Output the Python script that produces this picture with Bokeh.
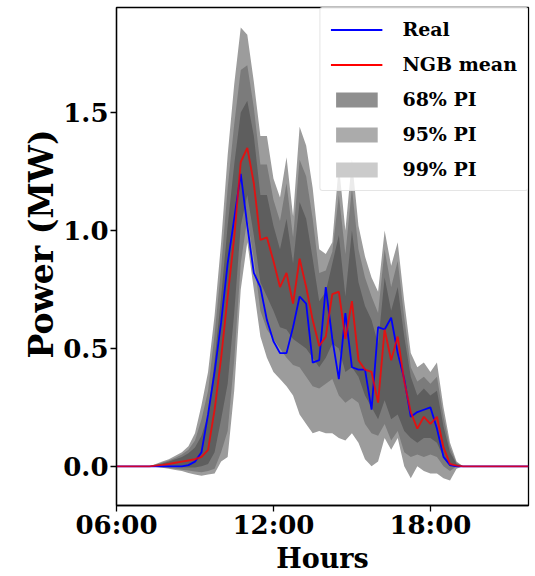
from bokeh.plotting import figure
from bokeh.models import (Range1d, FixedTicker, Legend, LegendItem, ColumnDataSource,
                          PrintfTickFormatter, Title)
from bokeh.embed import file_html
from bokeh.resources import INLINE

# 15-minute steps from 06:00 to 21:45 (hours as numbers)
hours = [6 + 0.25 * i for i in range(64)]

real = [0, 0, 0, 0, 0, 0, 0, 0, 0, 0, 0, 0.005, 0.02, 0.06, 0.22, 0.40,
        0.61, 0.86, 1.05, 1.24, 1.02, 0.82, 0.76, 0.62, 0.53, 0.48, 0.48, 0.59,
        0.72, 0.69, 0.44, 0.45, 0.76, 0.54, 0.37, 0.65, 0.42, 0.41, 0.41, 0.24,
        0.59, 0.58, 0.63, 0.48, 0.37, 0.21, 0.23, 0.24, 0.25, 0.16, 0.04, 0.005,
        0, 0, 0, 0, 0, 0, 0, 0, 0, 0, 0, 0]

ngb_mean = [0, 0, 0, 0, 0, 0, 0.003, 0.006, 0.01, 0.015, 0.02, 0.025, 0.03, 0.04, 0.07, 0.24,
            0.46, 0.72, 0.97, 1.29, 1.35, 1.20, 0.96, 0.97, 0.87, 0.76, 0.82, 0.69,
            0.88, 0.76, 0.62, 0.51, 0.55, 0.73, 0.74, 0.54, 0.70, 0.45, 0.41, 0.40,
            0.27, 0.58, 0.45, 0.55, 0.36, 0.23, 0.16, 0.21, 0.18, 0.21, 0.08, 0.01,
            0.003, 0, 0, 0, 0, 0, 0, 0, 0, 0, 0, 0]

lo99 = [0, 0, 0, 0, 0, 0, -0.003, -0.006, -0.01, -0.015, -0.02, -0.028, -0.035, -0.04, -0.035, -0.03,
        0.02, 0.04, 0.32, 0.75, 0.95, 0.75, 0.55, 0.46, 0.40, 0.37, 0.34, 0.30,
        0.22, 0.18, 0.14, 0.15, 0.14, 0.14, 0.12, 0.11, 0.14, 0.10, 0.03, 0.00,
        0.02, 0.12, 0.07, 0.12, 0.00, -0.05, 0.00, -0.02, -0.03, -0.03, -0.05, -0.06,
        -0.01, 0, 0, 0, 0, 0, 0, 0, 0, 0, 0, 0]
lo95 = [0, 0, 0, 0, 0, 0, -0.002, -0.004, -0.007, -0.01, -0.014, -0.018, -0.022, -0.025, -0.02, -0.01,
        0.06, 0.15, 0.45, 0.86, 1.05, 0.88, 0.66, 0.58, 0.54, 0.50, 0.46, 0.43,
        0.42, 0.38, 0.34, 0.33, 0.35, 0.37, 0.30, 0.27, 0.29, 0.27, 0.18, 0.14,
        0.13, 0.18, 0.11, 0.15, 0.06, 0.04, 0.05, 0.04, 0.05, 0.04, 0.00, -0.02,
        0, 0, 0, 0, 0, 0, 0, 0, 0, 0, 0, 0]
lo68 = [0, 0, 0, 0, 0, 0, 0, -0.001, -0.002, -0.003, -0.004, -0.005, -0.005, 0.0, 0.01, 0.06,
        0.20, 0.35, 0.65, 1.02, 1.15, 0.98, 0.78, 0.72, 0.66, 0.59, 0.58, 0.54,
        0.52, 0.50, 0.46, 0.42, 0.46, 0.52, 0.50, 0.40, 0.42, 0.38, 0.30, 0.25,
        0.20, 0.28, 0.20, 0.22, 0.15, 0.12, 0.10, 0.12, 0.12, 0.10, 0.04, 0.00,
        0, 0, 0, 0, 0, 0, 0, 0, 0, 0, 0, 0]
hi68 = [0, 0, 0, 0, 0, 0, 0.006, 0.012, 0.02, 0.03, 0.04, 0.055, 0.08, 0.13, 0.22, 0.45,
        0.72, 1.02, 1.28, 1.50, 1.55, 1.40, 1.15, 1.15, 1.02, 0.92, 1.05, 0.86,
        1.12, 1.05, 0.88, 0.70, 0.74, 0.86, 0.98, 0.72, 1.00, 0.78, 0.68, 0.62,
        0.52, 0.80, 0.66, 0.76, 0.55, 0.38, 0.30, 0.33, 0.30, 0.32, 0.17, 0.06,
        0.01, 0, 0, 0, 0, 0, 0, 0, 0, 0, 0, 0]
hi95 = [0, 0, 0, 0, 0, 0, 0.008, 0.016, 0.025, 0.036, 0.05, 0.07, 0.11, 0.20, 0.32, 0.56,
        0.84, 1.18, 1.45, 1.68, 1.70, 1.52, 1.28, 1.28, 1.13, 1.04, 1.20, 0.97,
        1.30, 1.23, 1.05, 0.82, 0.83, 0.91, 1.15, 0.90, 1.18, 0.92, 0.80, 0.72,
        0.65, 0.92, 0.76, 0.87, 0.63, 0.42, 0.36, 0.38, 0.35, 0.38, 0.21, 0.08,
        0.015, 0, 0, 0, 0, 0, 0, 0, 0, 0, 0, 0]
hi99 = [0, 0, 0, 0, 0, 0, 0.01, 0.02, 0.03, 0.045, 0.06, 0.085, 0.14, 0.26, 0.40, 0.64,
        0.95, 1.32, 1.62, 1.86, 1.83, 1.63, 1.40, 1.40, 1.22, 1.14, 1.31, 1.06,
        1.44, 1.36, 1.18, 0.92, 0.90, 0.95, 1.28, 1.00, 1.30, 1.02, 0.89, 0.80,
        0.74, 1.00, 0.85, 0.95, 0.70, 0.48, 0.42, 0.44, 0.40, 0.44, 0.25, 0.10,
        0.02, 0, 0, 0, 0, 0, 0, 0, 0, 0, 0, 0]

x_ticks = [6, 12, 18]
x_tick_labels = ["06:00", "12:00", "18:00"]
y_ticks = [0, 0.5, 1.0, 1.5]

src = ColumnDataSource(dict(x=hours, real=real, mean=ngb_mean,
                            lo99=lo99, hi99=hi99, lo95=lo95, hi95=hi95,
                            lo68=lo68, hi68=hi68))

FONT = "DejaVu Serif"

p = figure(width=535, height=576, output_backend="svg", toolbar_location=None,
           x_range=Range1d(6, 21.75), y_range=Range1d(-0.166, 1.945),
           min_border_left=116, min_border_right=7, min_border_top=7,
           min_border_bottom=71)
p.background_fill_color = "white"
p.border_fill_color = "white"
p.grid.visible = False
p.outline_line_color = "black"
p.outline_line_width = 1.3

# prediction interval bands (nested)
p.varea(x="x", y1="lo99", y2="hi99", source=src, fill_color="#9c9c9c")
p.varea(x="x", y1="lo95", y2="hi95", source=src, fill_color="#7b7b7b")
p.varea(x="x", y1="lo68", y2="hi68", source=src, fill_color="#5e5e5e")

p.line(x="x", y="real", source=src, line_color="#0000ff", line_width=1.8)
p.line(x="x", y="mean", source=src, line_color="#ff0000", line_width=1.9, line_alpha=0.8)

# legend swatches (placed outside the visible range)
off = ColumnDataSource(dict(x=[100, 101], y=[100, 100], y1=[100, 100], y2=[101, 101]))
l_real = p.line(x="x", y="y", source=off, line_color="#0000ff", line_width=2)
l_mean = p.line(x="x", y="y", source=off, line_color="#ff0000", line_width=2)
l_68 = p.varea(x="x", y1="y1", y2="y2", source=off, fill_color="#8f8f8f")
l_95 = p.varea(x="x", y1="y1", y2="y2", source=off, fill_color="#ababab")
l_99 = p.varea(x="x", y1="y1", y2="y2", source=off, fill_color="#cbcbcb")

legend = Legend(items=[
    LegendItem(label="Real", renderers=[l_real]),
    LegendItem(label="NGB mean", renderers=[l_mean]),
    LegendItem(label="68% PI", renderers=[l_68]),
    LegendItem(label="95% PI", renderers=[l_95]),
    LegendItem(label="99% PI", renderers=[l_99]),
], location="top_right")
legend.margin = 0
legend.padding = 10
legend.spacing = 13
legend.glyph_width = 52
legend.glyph_height = 19
legend.label_height = 22
legend.label_standoff = 20
legend.label_text_font = FONT
legend.label_text_font_style = "bold"
legend.label_text_font_size = "19px"
legend.label_text_color = "black"
legend.border_line_color = "#cccccc"
legend.border_line_width = 1
legend.border_radius = 3
legend.background_fill_color = "white"
legend.background_fill_alpha = 0.8
p.add_layout(legend)

# axes
xa = p.xaxis[0]
xa.ticker = FixedTicker(ticks=x_ticks)
xa.major_label_overrides = {t: s for t, s in zip(x_ticks, x_tick_labels)}
ya = p.yaxis[0]
ya.ticker = FixedTicker(ticks=y_ticks)
ya.formatter = PrintfTickFormatter(format="%.1f")

for ax in (xa, ya):
    ax.axis_line_color = "black"
    ax.axis_line_width = 1.3
    ax.major_tick_line_color = "black"
    ax.major_tick_line_width = 1.3
    ax.major_tick_out = 6
    ax.major_tick_in = 0
    ax.minor_tick_line_color = None
    ax.major_label_text_font = FONT
    ax.major_label_text_font_style = "bold"
    ax.major_label_text_font_size = "26px"
    ax.major_label_text_color = "black"
    ax.axis_label_text_font = FONT
    ax.axis_label_text_font_style = "bold"
    ax.axis_label_text_color = "black"

xa.axis_label = "Hours"
xa.axis_label_text_font_size = "27px"
xa.major_label_standoff = -2
xa.axis_label_standoff = 0
ya.major_label_standoff = 2

ylab = Title(text="Power (MW)", align="left", offset=147, standoff=0,
             text_font=FONT, text_font_style="bold", text_font_size="33px",
             text_color="black")
p.add_layout(ylab, "left")

open("out.html", "w").write(file_html(p, INLINE))
